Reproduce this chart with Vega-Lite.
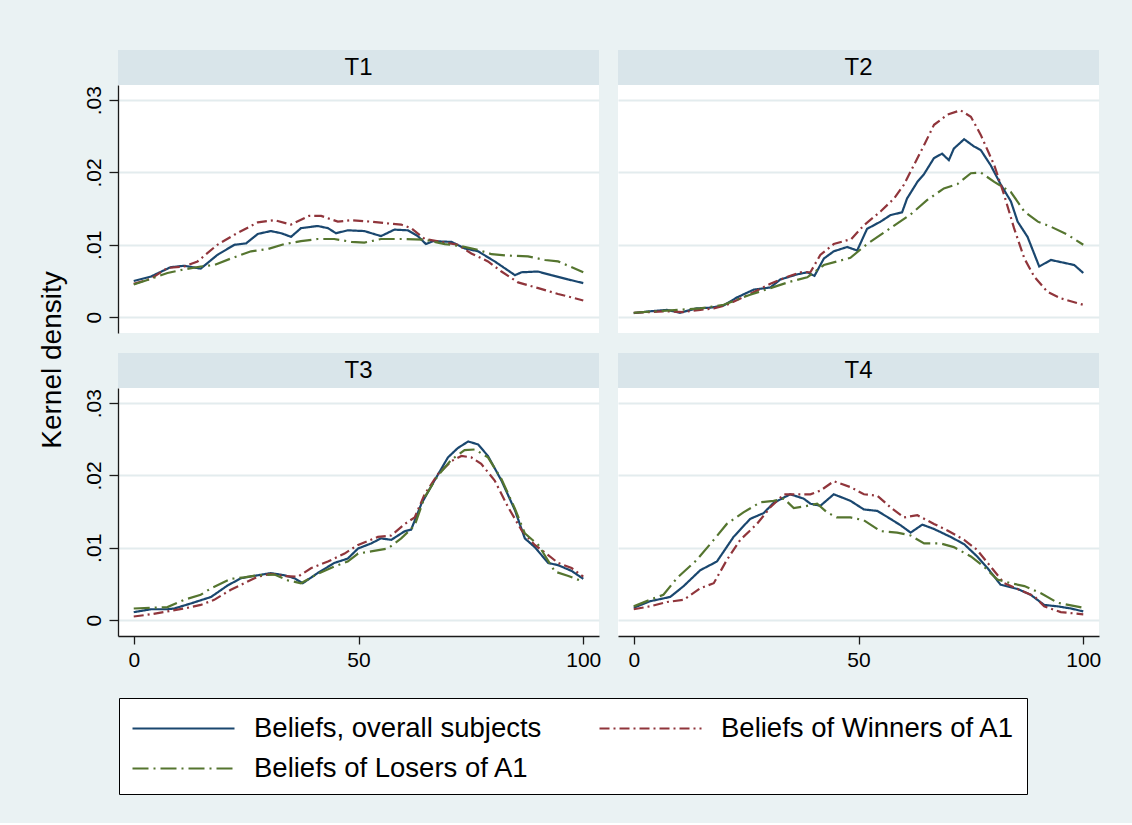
{
  "$schema": "https://vega.github.io/schema/vega-lite/v6.json",
  "background": "#eaf2f3",
  "padding": {"left": 38, "top": 50, "right": 34, "bottom": 28},
  "datasets": {
    "panels": [{"p": "T1"}, {"p": "T2"}, {"p": "T3"}, {"p": "T4"}],
    "kd": [
      {"p":"T1","g":"overall","x":0,"y":0.0050},{"p":"T1","g":"overall","x":3.8,"y":0.0056},{"p":"T1","g":"overall","x":8.2,"y":0.0069},{"p":"T1","g":"overall","x":11.2,"y":0.0071},{"p":"T1","g":"overall","x":14.9,"y":0.0067},{"p":"T1","g":"overall","x":18.6,"y":0.0086},{"p":"T1","g":"overall","x":22.4,"y":0.0100},{"p":"T1","g":"overall","x":25,"y":0.0102},{"p":"T1","g":"overall","x":27.6,"y":0.0115},{"p":"T1","g":"overall","x":30.5,"y":0.0119},{"p":"T1","g":"overall","x":32.8,"y":0.0116},{"p":"T1","g":"overall","x":35,"y":0.0111},{"p":"T1","g":"overall","x":37.2,"y":0.0123},{"p":"T1","g":"overall","x":40.9,"y":0.0126},{"p":"T1","g":"overall","x":43.2,"y":0.0123},{"p":"T1","g":"overall","x":45,"y":0.0116},{"p":"T1","g":"overall","x":47.6,"y":0.0120},{"p":"T1","g":"overall","x":51.3,"y":0.0119},{"p":"T1","g":"overall","x":55,"y":0.0112},{"p":"T1","g":"overall","x":58,"y":0.0121},{"p":"T1","g":"overall","x":61,"y":0.0120},{"p":"T1","g":"overall","x":63.2,"y":0.0112},{"p":"T1","g":"overall","x":65,"y":0.0101},{"p":"T1","g":"overall","x":66.6,"y":0.0105},{"p":"T1","g":"overall","x":70.7,"y":0.0104},{"p":"T1","g":"overall","x":73.6,"y":0.0095},{"p":"T1","g":"overall","x":76.6,"y":0.0091},{"p":"T1","g":"overall","x":80.3,"y":0.0077},{"p":"T1","g":"overall","x":84.8,"y":0.0058},{"p":"T1","g":"overall","x":86.3,"y":0.0062},{"p":"T1","g":"overall","x":89.9,"y":0.0063},{"p":"T1","g":"overall","x":92.9,"y":0.0058},{"p":"T1","g":"overall","x":96.7,"y":0.0052},{"p":"T1","g":"overall","x":100,"y":0.0047},
      {"p":"T1","g":"winners","x":0,"y":0.0046},{"p":"T1","g":"winners","x":3.8,"y":0.0053},{"p":"T1","g":"winners","x":7.5,"y":0.0068},{"p":"T1","g":"winners","x":11.2,"y":0.0070},{"p":"T1","g":"winners","x":14.2,"y":0.0077},{"p":"T1","g":"winners","x":18.6,"y":0.0100},{"p":"T1","g":"winners","x":22.4,"y":0.0114},{"p":"T1","g":"winners","x":27.6,"y":0.0131},{"p":"T1","g":"winners","x":31.3,"y":0.0134},{"p":"T1","g":"winners","x":35,"y":0.0128},{"p":"T1","g":"winners","x":39,"y":0.0140},{"p":"T1","g":"winners","x":41.7,"y":0.0140},{"p":"T1","g":"winners","x":45.4,"y":0.0132},{"p":"T1","g":"winners","x":48.4,"y":0.0134},{"p":"T1","g":"winners","x":52.8,"y":0.0132},{"p":"T1","g":"winners","x":55.8,"y":0.0130},{"p":"T1","g":"winners","x":59.5,"y":0.0128},{"p":"T1","g":"winners","x":61.7,"y":0.0123},{"p":"T1","g":"winners","x":64.7,"y":0.0108},{"p":"T1","g":"winners","x":68.4,"y":0.0104},{"p":"T1","g":"winners","x":72.1,"y":0.0100},{"p":"T1","g":"winners","x":75.1,"y":0.0088},{"p":"T1","g":"winners","x":78.8,"y":0.0077},{"p":"T1","g":"winners","x":81.8,"y":0.0063},{"p":"T1","g":"winners","x":85.5,"y":0.0048},{"p":"T1","g":"winners","x":90,"y":0.0040},{"p":"T1","g":"winners","x":94.4,"y":0.0032},{"p":"T1","g":"winners","x":100,"y":0.0023},
      {"p":"T1","g":"losers","x":0,"y":0.0045},{"p":"T1","g":"losers","x":3.8,"y":0.0053},{"p":"T1","g":"losers","x":7.5,"y":0.0061},{"p":"T1","g":"losers","x":11.2,"y":0.0066},{"p":"T1","g":"losers","x":14.9,"y":0.0070},{"p":"T1","g":"losers","x":17.9,"y":0.0072},{"p":"T1","g":"losers","x":21.6,"y":0.0081},{"p":"T1","g":"losers","x":26.1,"y":0.0091},{"p":"T1","g":"losers","x":29.8,"y":0.0094},{"p":"T1","g":"losers","x":33.5,"y":0.0101},{"p":"T1","g":"losers","x":37.2,"y":0.0105},{"p":"T1","g":"losers","x":40.9,"y":0.0108},{"p":"T1","g":"losers","x":44.6,"y":0.0108},{"p":"T1","g":"losers","x":48.4,"y":0.0104},{"p":"T1","g":"losers","x":51.3,"y":0.0103},{"p":"T1","g":"losers","x":55,"y":0.0108},{"p":"T1","g":"losers","x":60.3,"y":0.0108},{"p":"T1","g":"losers","x":64.7,"y":0.0107},{"p":"T1","g":"losers","x":69.2,"y":0.0101},{"p":"T1","g":"losers","x":72.9,"y":0.0098},{"p":"T1","g":"losers","x":76.6,"y":0.0093},{"p":"T1","g":"losers","x":79.6,"y":0.0087},{"p":"T1","g":"losers","x":83.3,"y":0.0085},{"p":"T1","g":"losers","x":87.7,"y":0.0084},{"p":"T1","g":"losers","x":91.5,"y":0.0079},{"p":"T1","g":"losers","x":94.4,"y":0.0077},{"p":"T1","g":"losers","x":100,"y":0.0062},
      {"p":"T2","g":"overall","x":0,"y":0.00055},{"p":"T2","g":"overall","x":3.6,"y":0.0008},{"p":"T2","g":"overall","x":7.4,"y":0.0010},{"p":"T2","g":"overall","x":10.3,"y":0.0006},{"p":"T2","g":"overall","x":14,"y":0.0012},{"p":"T2","g":"overall","x":17,"y":0.0013},{"p":"T2","g":"overall","x":20,"y":0.0016},{"p":"T2","g":"overall","x":22.9,"y":0.0027},{"p":"T2","g":"overall","x":26.7,"y":0.0038},{"p":"T2","g":"overall","x":30.4,"y":0.0041},{"p":"T2","g":"overall","x":32.6,"y":0.0052},{"p":"T2","g":"overall","x":36.3,"y":0.0059},{"p":"T2","g":"overall","x":38.6,"y":0.0062},{"p":"T2","g":"overall","x":40.2,"y":0.0057},{"p":"T2","g":"overall","x":42.3,"y":0.0081},{"p":"T2","g":"overall","x":44.5,"y":0.0091},{"p":"T2","g":"overall","x":47.5,"y":0.0097},{"p":"T2","g":"overall","x":49.7,"y":0.0092},{"p":"T2","g":"overall","x":51.9,"y":0.0122},{"p":"T2","g":"overall","x":54.9,"y":0.0132},{"p":"T2","g":"overall","x":57.1,"y":0.0141},{"p":"T2","g":"overall","x":59.7,"y":0.0145},{"p":"T2","g":"overall","x":60.8,"y":0.0164},{"p":"T2","g":"overall","x":63.1,"y":0.0187},{"p":"T2","g":"overall","x":64.5,"y":0.0197},{"p":"T2","g":"overall","x":66.8,"y":0.0220},{"p":"T2","g":"overall","x":68.6,"y":0.0226},{"p":"T2","g":"overall","x":70.1,"y":0.0217},{"p":"T2","g":"overall","x":71.2,"y":0.0233},{"p":"T2","g":"overall","x":73.5,"y":0.0246},{"p":"T2","g":"overall","x":75.7,"y":0.0236},{"p":"T2","g":"overall","x":77.2,"y":0.0231},{"p":"T2","g":"overall","x":79.4,"y":0.0210},{"p":"T2","g":"overall","x":81.6,"y":0.0184},{"p":"T2","g":"overall","x":83.9,"y":0.0160},{"p":"T2","g":"overall","x":85.4,"y":0.0132},{"p":"T2","g":"overall","x":87.6,"y":0.0111},{"p":"T2","g":"overall","x":90.2,"y":0.0070},{"p":"T2","g":"overall","x":92.8,"y":0.0079},{"p":"T2","g":"overall","x":95.8,"y":0.0075},{"p":"T2","g":"overall","x":98,"y":0.0072},{"p":"T2","g":"overall","x":100,"y":0.0061},
      {"p":"T2","g":"winners","x":0,"y":0.0006},{"p":"T2","g":"winners","x":7.4,"y":0.0008},{"p":"T2","g":"winners","x":11.1,"y":0.0007},{"p":"T2","g":"winners","x":14.8,"y":0.0010},{"p":"T2","g":"winners","x":17.8,"y":0.0012},{"p":"T2","g":"winners","x":20.7,"y":0.0017},{"p":"T2","g":"winners","x":25.9,"y":0.0032},{"p":"T2","g":"winners","x":30.4,"y":0.0046},{"p":"T2","g":"winners","x":33.4,"y":0.0054},{"p":"T2","g":"winners","x":37.1,"y":0.0062},{"p":"T2","g":"winners","x":39.3,"y":0.0062},{"p":"T2","g":"winners","x":41.5,"y":0.0086},{"p":"T2","g":"winners","x":44.5,"y":0.0101},{"p":"T2","g":"winners","x":48.4,"y":0.0108},{"p":"T2","g":"winners","x":51.2,"y":0.0127},{"p":"T2","g":"winners","x":54.9,"y":0.0146},{"p":"T2","g":"winners","x":57.9,"y":0.0164},{"p":"T2","g":"winners","x":60.1,"y":0.0183},{"p":"T2","g":"winners","x":62.3,"y":0.0210},{"p":"T2","g":"winners","x":64.6,"y":0.0238},{"p":"T2","g":"winners","x":66.8,"y":0.0266},{"p":"T2","g":"winners","x":69.8,"y":0.0280},{"p":"T2","g":"winners","x":72.7,"y":0.0286},{"p":"T2","g":"winners","x":75,"y":0.0277},{"p":"T2","g":"winners","x":77.2,"y":0.0252},{"p":"T2","g":"winners","x":80.2,"y":0.0210},{"p":"T2","g":"winners","x":82.4,"y":0.0169},{"p":"T2","g":"winners","x":84.6,"y":0.0123},{"p":"T2","g":"winners","x":86.9,"y":0.0081},{"p":"T2","g":"winners","x":89.1,"y":0.0056},{"p":"T2","g":"winners","x":92,"y":0.0035},{"p":"T2","g":"winners","x":95,"y":0.0026},{"p":"T2","g":"winners","x":100,"y":0.0017},
      {"p":"T2","g":"losers","x":0,"y":0.0006},{"p":"T2","g":"losers","x":7.4,"y":0.0009},{"p":"T2","g":"losers","x":14.8,"y":0.0012},{"p":"T2","g":"losers","x":20,"y":0.0017},{"p":"T2","g":"losers","x":25.9,"y":0.0031},{"p":"T2","g":"losers","x":30.4,"y":0.0040},{"p":"T2","g":"losers","x":34.8,"y":0.0049},{"p":"T2","g":"losers","x":38.6,"y":0.0055},{"p":"T2","g":"losers","x":42.3,"y":0.0072},{"p":"T2","g":"losers","x":48.2,"y":0.0082},{"p":"T2","g":"losers","x":51.9,"y":0.0101},{"p":"T2","g":"losers","x":57.1,"y":0.0123},{"p":"T2","g":"losers","x":61.6,"y":0.0142},{"p":"T2","g":"losers","x":65.3,"y":0.0162},{"p":"T2","g":"losers","x":69,"y":0.0178},{"p":"T2","g":"losers","x":72,"y":0.0184},{"p":"T2","g":"losers","x":75,"y":0.0199},{"p":"T2","g":"losers","x":77.2,"y":0.0200},{"p":"T2","g":"losers","x":80.2,"y":0.0187},{"p":"T2","g":"losers","x":83.9,"y":0.0173},{"p":"T2","g":"losers","x":86.9,"y":0.0146},{"p":"T2","g":"losers","x":89.9,"y":0.0132},{"p":"T2","g":"losers","x":92.8,"y":0.0125},{"p":"T2","g":"losers","x":96.5,"y":0.0114},{"p":"T2","g":"losers","x":100,"y":0.0100},
      {"p":"T3","g":"overall","x":0,"y":0.0011},{"p":"T3","g":"overall","x":3.8,"y":0.0015},{"p":"T3","g":"overall","x":7.5,"y":0.0015},{"p":"T3","g":"overall","x":9,"y":0.0016},{"p":"T3","g":"overall","x":12.7,"y":0.0023},{"p":"T3","g":"overall","x":17.2,"y":0.0032},{"p":"T3","g":"overall","x":20.9,"y":0.0048},{"p":"T3","g":"overall","x":23.9,"y":0.0058},{"p":"T3","g":"overall","x":27.6,"y":0.0062},{"p":"T3","g":"overall","x":30.5,"y":0.0065},{"p":"T3","g":"overall","x":33.5,"y":0.0062},{"p":"T3","g":"overall","x":35.7,"y":0.0058},{"p":"T3","g":"overall","x":37.6,"y":0.0051},{"p":"T3","g":"overall","x":40.9,"y":0.0065},{"p":"T3","g":"overall","x":44.6,"y":0.0079},{"p":"T3","g":"overall","x":47.6,"y":0.0085},{"p":"T3","g":"overall","x":49.9,"y":0.0099},{"p":"T3","g":"overall","x":52.8,"y":0.0106},{"p":"T3","g":"overall","x":55,"y":0.0113},{"p":"T3","g":"overall","x":57.3,"y":0.0111},{"p":"T3","g":"overall","x":60.3,"y":0.0123},{"p":"T3","g":"overall","x":61.7,"y":0.0125},{"p":"T3","g":"overall","x":64,"y":0.0161},{"p":"T3","g":"overall","x":66.9,"y":0.0193},{"p":"T3","g":"overall","x":69.9,"y":0.0225},{"p":"T3","g":"overall","x":72.1,"y":0.0238},{"p":"T3","g":"overall","x":74.4,"y":0.0247},{"p":"T3","g":"overall","x":76.6,"y":0.0243},{"p":"T3","g":"overall","x":78.8,"y":0.0227},{"p":"T3","g":"overall","x":81.8,"y":0.0193},{"p":"T3","g":"overall","x":84.8,"y":0.0152},{"p":"T3","g":"overall","x":87,"y":0.0113},{"p":"T3","g":"overall","x":89.2,"y":0.0101},{"p":"T3","g":"overall","x":92.2,"y":0.0079},{"p":"T3","g":"overall","x":94.4,"y":0.0076},{"p":"T3","g":"overall","x":97.4,"y":0.0068},{"p":"T3","g":"overall","x":100,"y":0.0057},
      {"p":"T3","g":"winners","x":0,"y":0.0005},{"p":"T3","g":"winners","x":3.8,"y":0.0008},{"p":"T3","g":"winners","x":7.5,"y":0.0012},{"p":"T3","g":"winners","x":11.2,"y":0.0016},{"p":"T3","g":"winners","x":14.9,"y":0.0021},{"p":"T3","g":"winners","x":17.9,"y":0.0028},{"p":"T3","g":"winners","x":21.6,"y":0.0042},{"p":"T3","g":"winners","x":24.6,"y":0.0051},{"p":"T3","g":"winners","x":27.6,"y":0.0060},{"p":"T3","g":"winners","x":30.5,"y":0.0064},{"p":"T3","g":"winners","x":33.5,"y":0.0061},{"p":"T3","g":"winners","x":36.5,"y":0.0060},{"p":"T3","g":"winners","x":39.5,"y":0.0072},{"p":"T3","g":"winners","x":43.2,"y":0.0081},{"p":"T3","g":"winners","x":46.9,"y":0.0092},{"p":"T3","g":"winners","x":49.9,"y":0.0104},{"p":"T3","g":"winners","x":54.3,"y":0.0115},{"p":"T3","g":"winners","x":57.3,"y":0.0117},{"p":"T3","g":"winners","x":60.3,"y":0.0133},{"p":"T3","g":"winners","x":62.5,"y":0.0142},{"p":"T3","g":"winners","x":64.7,"y":0.0174},{"p":"T3","g":"winners","x":67.7,"y":0.0202},{"p":"T3","g":"winners","x":70.7,"y":0.0220},{"p":"T3","g":"winners","x":72.9,"y":0.0227},{"p":"T3","g":"winners","x":75.1,"y":0.0225},{"p":"T3","g":"winners","x":77.3,"y":0.0216},{"p":"T3","g":"winners","x":80.3,"y":0.0193},{"p":"T3","g":"winners","x":83.3,"y":0.0156},{"p":"T3","g":"winners","x":86.3,"y":0.0124},{"p":"T3","g":"winners","x":89.2,"y":0.0104},{"p":"T3","g":"winners","x":92.2,"y":0.0090},{"p":"T3","g":"winners","x":94.4,"y":0.0079},{"p":"T3","g":"winners","x":97.4,"y":0.0072},{"p":"T3","g":"winners","x":100,"y":0.0060},
      {"p":"T3","g":"losers","x":0,"y":0.0016},{"p":"T3","g":"losers","x":3.8,"y":0.0017},{"p":"T3","g":"losers","x":7.5,"y":0.0018},{"p":"T3","g":"losers","x":11.2,"y":0.0028},{"p":"T3","g":"losers","x":14.9,"y":0.0035},{"p":"T3","g":"losers","x":17.2,"y":0.0044},{"p":"T3","g":"losers","x":21.6,"y":0.0057},{"p":"T3","g":"losers","x":24.6,"y":0.0059},{"p":"T3","g":"losers","x":27.6,"y":0.0062},{"p":"T3","g":"losers","x":31.3,"y":0.0063},{"p":"T3","g":"losers","x":34.3,"y":0.0055},{"p":"T3","g":"losers","x":37.2,"y":0.0051},{"p":"T3","g":"losers","x":40.9,"y":0.0064},{"p":"T3","g":"losers","x":44.6,"y":0.0074},{"p":"T3","g":"losers","x":47.6,"y":0.0081},{"p":"T3","g":"losers","x":49.9,"y":0.0092},{"p":"T3","g":"losers","x":52.8,"y":0.0095},{"p":"T3","g":"losers","x":56.5,"y":0.0099},{"p":"T3","g":"losers","x":59.5,"y":0.0113},{"p":"T3","g":"losers","x":62.5,"y":0.0131},{"p":"T3","g":"losers","x":64.7,"y":0.0170},{"p":"T3","g":"losers","x":67.7,"y":0.0200},{"p":"T3","g":"losers","x":70.7,"y":0.0222},{"p":"T3","g":"losers","x":73.6,"y":0.0235},{"p":"T3","g":"losers","x":75.9,"y":0.0236},{"p":"T3","g":"losers","x":78.8,"y":0.0225},{"p":"T3","g":"losers","x":81.8,"y":0.0195},{"p":"T3","g":"losers","x":84.8,"y":0.0154},{"p":"T3","g":"losers","x":87,"y":0.0120},{"p":"T3","g":"losers","x":90,"y":0.0104},{"p":"T3","g":"losers","x":93.7,"y":0.0067},{"p":"T3","g":"losers","x":96.7,"y":0.0061},{"p":"T3","g":"losers","x":100,"y":0.0053},
      {"p":"T4","g":"overall","x":0,"y":0.0017},{"p":"T4","g":"overall","x":3.6,"y":0.0026},{"p":"T4","g":"overall","x":8.1,"y":0.0032},{"p":"T4","g":"overall","x":11.1,"y":0.0047},{"p":"T4","g":"overall","x":14.8,"y":0.0069},{"p":"T4","g":"overall","x":18.5,"y":0.0081},{"p":"T4","g":"overall","x":22.2,"y":0.0115},{"p":"T4","g":"overall","x":25.9,"y":0.0140},{"p":"T4","g":"overall","x":28.9,"y":0.0148},{"p":"T4","g":"overall","x":31.1,"y":0.0162},{"p":"T4","g":"overall","x":34.8,"y":0.0174},{"p":"T4","g":"overall","x":37.8,"y":0.0168},{"p":"T4","g":"overall","x":39.3,"y":0.0161},{"p":"T4","g":"overall","x":41.5,"y":0.0158},{"p":"T4","g":"overall","x":44.5,"y":0.0174},{"p":"T4","g":"overall","x":48.2,"y":0.0165},{"p":"T4","g":"overall","x":51.2,"y":0.0153},{"p":"T4","g":"overall","x":54.2,"y":0.0151},{"p":"T4","g":"overall","x":57.1,"y":0.0140},{"p":"T4","g":"overall","x":59.4,"y":0.0131},{"p":"T4","g":"overall","x":61.6,"y":0.0121},{"p":"T4","g":"overall","x":64.2,"y":0.0132},{"p":"T4","g":"overall","x":66.8,"y":0.0126},{"p":"T4","g":"overall","x":70.5,"y":0.0115},{"p":"T4","g":"overall","x":73.5,"y":0.0105},{"p":"T4","g":"overall","x":76.4,"y":0.0088},{"p":"T4","g":"overall","x":78.7,"y":0.0072},{"p":"T4","g":"overall","x":81.6,"y":0.0049},{"p":"T4","g":"overall","x":85.4,"y":0.0043},{"p":"T4","g":"overall","x":88.3,"y":0.0035},{"p":"T4","g":"overall","x":91.3,"y":0.0021},{"p":"T4","g":"overall","x":94.3,"y":0.0019},{"p":"T4","g":"overall","x":97.3,"y":0.0016},{"p":"T4","g":"overall","x":100,"y":0.0012},
      {"p":"T4","g":"winners","x":0,"y":0.0015},{"p":"T4","g":"winners","x":3.6,"y":0.0019},{"p":"T4","g":"winners","x":7.4,"y":0.0025},{"p":"T4","g":"winners","x":11.1,"y":0.0028},{"p":"T4","g":"winners","x":14.8,"y":0.0044},{"p":"T4","g":"winners","x":17.8,"y":0.0051},{"p":"T4","g":"winners","x":20.7,"y":0.0083},{"p":"T4","g":"winners","x":23.7,"y":0.0111},{"p":"T4","g":"winners","x":27.4,"y":0.0133},{"p":"T4","g":"winners","x":30.4,"y":0.0156},{"p":"T4","g":"winners","x":33.4,"y":0.0174},{"p":"T4","g":"winners","x":36.3,"y":0.0174},{"p":"T4","g":"winners","x":39.3,"y":0.0174},{"p":"T4","g":"winners","x":41.5,"y":0.0179},{"p":"T4","g":"winners","x":44.5,"y":0.0192},{"p":"T4","g":"winners","x":48.2,"y":0.0184},{"p":"T4","g":"winners","x":51.2,"y":0.0174},{"p":"T4","g":"winners","x":54.2,"y":0.0172},{"p":"T4","g":"winners","x":57.1,"y":0.0156},{"p":"T4","g":"winners","x":60.1,"y":0.0142},{"p":"T4","g":"winners","x":63.1,"y":0.0145},{"p":"T4","g":"winners","x":66.8,"y":0.0133},{"p":"T4","g":"winners","x":69.8,"y":0.0124},{"p":"T4","g":"winners","x":73.5,"y":0.0111},{"p":"T4","g":"winners","x":76.4,"y":0.0097},{"p":"T4","g":"winners","x":79.4,"y":0.0074},{"p":"T4","g":"winners","x":82.4,"y":0.0051},{"p":"T4","g":"winners","x":85.4,"y":0.0043},{"p":"T4","g":"winners","x":89.1,"y":0.0033},{"p":"T4","g":"winners","x":91.3,"y":0.0019},{"p":"T4","g":"winners","x":95,"y":0.0011},{"p":"T4","g":"winners","x":100,"y":0.0008},
      {"p":"T4","g":"losers","x":0,"y":0.0019},{"p":"T4","g":"losers","x":3.6,"y":0.0028},{"p":"T4","g":"losers","x":6.6,"y":0.0035},{"p":"T4","g":"losers","x":9.6,"y":0.0058},{"p":"T4","g":"losers","x":14,"y":0.0083},{"p":"T4","g":"losers","x":17.8,"y":0.0111},{"p":"T4","g":"losers","x":20.7,"y":0.0133},{"p":"T4","g":"losers","x":24.4,"y":0.0149},{"p":"T4","g":"losers","x":28.2,"y":0.0163},{"p":"T4","g":"losers","x":31.1,"y":0.0165},{"p":"T4","g":"losers","x":33.4,"y":0.0168},{"p":"T4","g":"losers","x":35.6,"y":0.0155},{"p":"T4","g":"losers","x":37.8,"y":0.0157},{"p":"T4","g":"losers","x":40.8,"y":0.0161},{"p":"T4","g":"losers","x":43,"y":0.0149},{"p":"T4","g":"losers","x":45.2,"y":0.0142},{"p":"T4","g":"losers","x":48.2,"y":0.0142},{"p":"T4","g":"losers","x":51.2,"y":0.0138},{"p":"T4","g":"losers","x":54.9,"y":0.0123},{"p":"T4","g":"losers","x":58.6,"y":0.0121},{"p":"T4","g":"losers","x":61.6,"y":0.0117},{"p":"T4","g":"losers","x":64.6,"y":0.0106},{"p":"T4","g":"losers","x":68.3,"y":0.0106},{"p":"T4","g":"losers","x":71.2,"y":0.0101},{"p":"T4","g":"losers","x":75,"y":0.0088},{"p":"T4","g":"losers","x":77.9,"y":0.0074},{"p":"T4","g":"losers","x":80.9,"y":0.0056},{"p":"T4","g":"losers","x":83.9,"y":0.0051},{"p":"T4","g":"losers","x":86.9,"y":0.0047},{"p":"T4","g":"losers","x":90.6,"y":0.0037},{"p":"T4","g":"losers","x":94.3,"y":0.0024},{"p":"T4","g":"losers","x":100,"y":0.0017}
    ]
  },
  "config": {
    "font": "Liberation Sans",
    "view": {"stroke": null},
    "axis": {
      "labelFont": "Liberation Sans", "labelFontSize": 21, "labelColor": "#000",
      "titleFont": "Liberation Sans", "titleFontWeight": "normal", "titleColor": "#000",
      "domainColor": "#1a1a1a", "domainWidth": 1.3, "tickColor": "#1a1a1a", "tickWidth": 1.3,
      "gridColor": "#e3ecee", "gridWidth": 2
    },
    "line": {"strokeWidth": 2.2, "clip": true}
  },
  "resolve": {"scale": {"color": "independent", "strokeDash": "independent"}},
  "spacing": 27,
  "vconcat": [
    {
      "title": {"text": "Kernel density", "orient": "left", "anchor": "middle", "fontSize": 28, "fontWeight": "normal", "font": "Liberation Sans", "color": "#000", "offset": 16},
      "resolve": {"scale": {"color": "independent", "strokeDash": "independent"}},
      "columns": 2,
      "align": "each",
      "spacing": {"row": 20, "column": 17},
      "concat": [
        {
          "resolve": {"scale": {"color": "independent", "strokeDash": "independent"}},
          "bounds": "flush", "spacing": 0,
          "vconcat": [
            {
              "width": 481, "height": 35,
              "view": {"fill": "#d9e5ea", "stroke": null},
              "data": {"name": "panels"},
              "transform": [{"filter": "datum.p === 'T1'"}],
              "mark": {"type": "text", "fontSize": 24, "color": "#000"},
              "encoding": {"x": {"field": "p", "type": "nominal", "axis": null}, "text": {"field": "p"}}
            },
            {
              "width": 481, "height": 248,
              "view": {"fill": "white", "stroke": null},
              "data": {"name": "kd"},
              "transform": [{"filter": "datum.p === 'T1'"}],
              "mark": {"type": "line"},
              "encoding": {
                "x": {"field": "x", "type": "quantitative", "scale": {"domain": [-3.5, 103.5], "nice": false, "zero": false}, "axis": null},
                "y": {"field": "y", "type": "quantitative", "scale": {"domain": [-0.0022, 0.0321], "nice": false, "zero": false},
                      "axis": {"values": [0, 0.01, 0.02, 0.03], "labelExpr": "datum.value === 0 ? '0' : substring(format(datum.value, '.2f'), 1)",
                               "labelAngle": -90, "labelAlign": "center", "labelBaseline": "bottom", "tickSize": 9, "labelPadding": 5, "grid": true, "title": null}},
                "color": {"field": "g", "type": "nominal", "scale": {"domain": ["overall", "winners", "losers"], "range": ["#1a476f", "#90353b", "#55752f"]}, "legend": null},
                "strokeDash": {"field": "g", "type": "nominal", "scale": {"domain": ["overall", "winners", "losers"], "range": [[1, 0], [10, 4, 2, 4], [16, 5, 2, 5]]}, "legend": null}
              }
            }
          ]
        },
        {
          "resolve": {"scale": {"color": "independent", "strokeDash": "independent"}},
          "bounds": "flush", "spacing": 0,
          "vconcat": [
            {
              "width": 481, "height": 35,
              "view": {"fill": "#d9e5ea", "stroke": null},
              "data": {"name": "panels"},
              "transform": [{"filter": "datum.p === 'T2'"}],
              "mark": {"type": "text", "fontSize": 24, "color": "#000"},
              "encoding": {"x": {"field": "p", "type": "nominal", "axis": null}, "text": {"field": "p"}}
            },
            {
              "width": 481, "height": 248,
              "view": {"fill": "white", "stroke": null},
              "data": {"name": "kd"},
              "transform": [{"filter": "datum.p === 'T2'"}],
              "mark": {"type": "line"},
              "encoding": {
                "x": {"field": "x", "type": "quantitative", "scale": {"domain": [-3.5, 103.5], "nice": false, "zero": false}, "axis": null},
                "y": {"field": "y", "type": "quantitative", "scale": {"domain": [-0.0022, 0.0321], "nice": false, "zero": false},
                      "axis": {"values": [0, 0.01, 0.02, 0.03], "domain": false, "ticks": false, "labels": false, "grid": true, "title": null}},
                "color": {"field": "g", "type": "nominal", "scale": {"domain": ["overall", "winners", "losers"], "range": ["#1a476f", "#90353b", "#55752f"]}, "legend": null},
                "strokeDash": {"field": "g", "type": "nominal", "scale": {"domain": ["overall", "winners", "losers"], "range": [[1, 0], [10, 4, 2, 4], [16, 5, 2, 5]]}, "legend": null}
              }
            }
          ]
        },
        {
          "resolve": {"scale": {"color": "independent", "strokeDash": "independent"}},
          "bounds": "flush", "spacing": 0,
          "vconcat": [
            {
              "width": 481, "height": 35,
              "view": {"fill": "#d9e5ea", "stroke": null},
              "data": {"name": "panels"},
              "transform": [{"filter": "datum.p === 'T3'"}],
              "mark": {"type": "text", "fontSize": 24, "color": "#000"},
              "encoding": {"x": {"field": "p", "type": "nominal", "axis": null}, "text": {"field": "p"}}
            },
            {
              "width": 481, "height": 248,
              "view": {"fill": "white", "stroke": null},
              "data": {"name": "kd"},
              "transform": [{"filter": "datum.p === 'T3'"}],
              "mark": {"type": "line"},
              "encoding": {
                "x": {"field": "x", "type": "quantitative", "scale": {"domain": [-3.5, 103.5], "nice": false, "zero": false},
                      "axis": {"values": [0, 50, 100], "format": "d", "labelAngle": 0, "tickSize": 8, "labelPadding": 5, "grid": false, "title": null}},
                "y": {"field": "y", "type": "quantitative", "scale": {"domain": [-0.0022, 0.0321], "nice": false, "zero": false},
                      "axis": {"values": [0, 0.01, 0.02, 0.03], "labelExpr": "datum.value === 0 ? '0' : substring(format(datum.value, '.2f'), 1)",
                               "labelAngle": -90, "labelAlign": "center", "labelBaseline": "bottom", "tickSize": 9, "labelPadding": 5, "grid": true, "title": null}},
                "color": {"field": "g", "type": "nominal", "scale": {"domain": ["overall", "winners", "losers"], "range": ["#1a476f", "#90353b", "#55752f"]}, "legend": null},
                "strokeDash": {"field": "g", "type": "nominal", "scale": {"domain": ["overall", "winners", "losers"], "range": [[1, 0], [10, 4, 2, 4], [16, 5, 2, 5]]}, "legend": null}
              }
            }
          ]
        },
        {
          "resolve": {"scale": {"color": "independent", "strokeDash": "independent"}},
          "bounds": "flush", "spacing": 0,
          "vconcat": [
            {
              "width": 481, "height": 35,
              "view": {"fill": "#d9e5ea", "stroke": null},
              "data": {"name": "panels"},
              "transform": [{"filter": "datum.p === 'T4'"}],
              "mark": {"type": "text", "fontSize": 24, "color": "#000"},
              "encoding": {"x": {"field": "p", "type": "nominal", "axis": null}, "text": {"field": "p"}}
            },
            {
              "width": 481, "height": 248,
              "view": {"fill": "white", "stroke": null},
              "data": {"name": "kd"},
              "transform": [{"filter": "datum.p === 'T4'"}],
              "mark": {"type": "line"},
              "encoding": {
                "x": {"field": "x", "type": "quantitative", "scale": {"domain": [-3.5, 103.5], "nice": false, "zero": false},
                      "axis": {"values": [0, 50, 100], "format": "d", "labelAngle": 0, "tickSize": 8, "labelPadding": 5, "grid": false, "title": null}},
                "y": {"field": "y", "type": "quantitative", "scale": {"domain": [-0.0022, 0.0321], "nice": false, "zero": false},
                      "axis": {"values": [0, 0.01, 0.02, 0.03], "domain": false, "ticks": false, "labels": false, "grid": true, "title": null}},
                "color": {"field": "g", "type": "nominal", "scale": {"domain": ["overall", "winners", "losers"], "range": ["#1a476f", "#90353b", "#55752f"]}, "legend": null},
                "strokeDash": {"field": "g", "type": "nominal", "scale": {"domain": ["overall", "winners", "losers"], "range": [[1, 0], [10, 4, 2, 4], [16, 5, 2, 5]]}, "legend": null}
              }
            }
          ]
        }
      ]
    },
    {
      "width": 1, "height": 1,
      "view": {"fill": null, "stroke": null},
      "data": {"name": "kd"},
      "transform": [{"filter": "false"}],
      "mark": {"type": "line"},
      "encoding": {
        "x": {"field": "x", "type": "quantitative", "axis": null},
        "y": {"field": "y", "type": "quantitative", "axis": null},
        "color": {"field": "g", "type": "nominal", "scale": {"domain": ["overall", "winners", "losers"], "range": ["#1a476f", "#90353b", "#55752f"]},
                  "legend": {"orient": "none", "legendX": 1, "legendY": 1, "title": null, "columns": 2, "direction": "horizontal",
                             "symbolType": "M-1,0L5,0", "symbolSize": 1156, "symbolStrokeWidth": 2,
                             "labelFont": "Liberation Sans", "labelFontSize": 27.5, "labelColor": "#000", "labelOffset": 86, "labelLimit": 500,
                             "labelExpr": "datum.value === 'overall' ? 'Beliefs, overall subjects' : datum.value === 'winners' ? 'Beliefs of Winners of A1' : 'Beliefs of Losers of A1'",
                             "columnPadding": 53, "rowPadding": 8, "padding": 12, "fillColor": "white", "strokeColor": "#000"}},
        "strokeDash": {"field": "g", "type": "nominal", "scale": {"domain": ["overall", "winners", "losers"], "range": [[1, 0], [10, 4, 2, 4], [16, 5, 2, 5]]},
                  "legend": {"orient": "none", "legendX": 1, "legendY": 1, "title": null, "columns": 2, "direction": "horizontal",
                             "symbolType": "M-1,0L5,0", "symbolSize": 1156, "symbolStrokeWidth": 2,
                             "labelFont": "Liberation Sans", "labelFontSize": 27.5, "labelColor": "#000", "labelOffset": 86, "labelLimit": 500,
                             "labelExpr": "datum.value === 'overall' ? 'Beliefs, overall subjects' : datum.value === 'winners' ? 'Beliefs of Winners of A1' : 'Beliefs of Losers of A1'",
                             "columnPadding": 53, "rowPadding": 8, "padding": 12, "fillColor": "white", "strokeColor": "#000"}}
      }
    }
  ]
}
